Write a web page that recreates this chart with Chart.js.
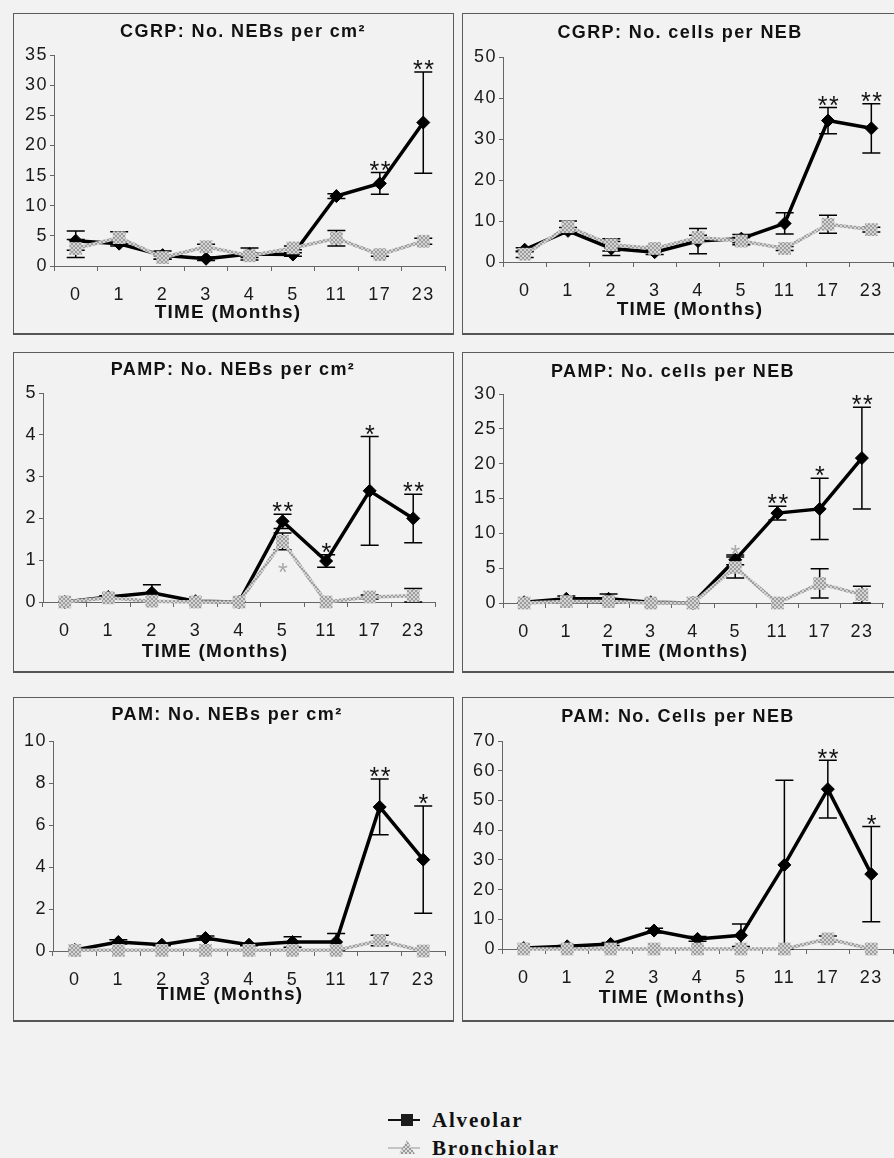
<!DOCTYPE html>
<html>
<head>
<meta charset="utf-8">
<title>NEB counts over time</title>
<script src="https://cdn.jsdelivr.net/npm/chart.js@4.4.1/dist/chart.umd.min.js"></script>
<style>
  body { margin:0; width:894px; height:1158px; overflow:hidden; background:#f2f2f2; position:relative; }
  .marco { position:absolute; border:1px solid #5c5c5c; border-bottom:2px solid #555; box-sizing:border-box; }
  canvas.graf { position:absolute; }
  #leyenda { position:absolute; left:386px; top:1106px; font-family:"Liberation Serif","Times New Roman",serif; font-weight:bold; font-size:21px; letter-spacing:1.8px; color:#111; }
  .item { position:relative; height:28px; line-height:28px; padding-left:46px; }
  .linea { position:absolute; left:2px; top:13px; width:32px; height:2px; }
  .cuadro { position:absolute; left:15px; top:8px; width:12px; height:12px; background:#1c1c1c; }
  .triangulo { position:absolute; left:13px; top:6px; width:16px; height:14px; clip-path:polygon(50% 0,100% 100%,0 100%);
               background:repeating-conic-gradient(#999 0 25%, #dcdcdc 0 50%) 0 0/4px 4px; }
</style>
</head>
<body>

<div class="marco" style="left:13px;top:13px;width:441px;height:322px"></div>
<div class="marco" style="left:462px;top:13px;width:440px;height:322px"></div>
<div class="marco" style="left:13px;top:352px;width:441px;height:321px"></div>
<div class="marco" style="left:462px;top:352px;width:440px;height:321px"></div>
<div class="marco" style="left:13px;top:697px;width:441px;height:325px"></div>
<div class="marco" style="left:462px;top:697px;width:440px;height:325px"></div>

<canvas id="g1" class="graf" width="441" height="322" style="left:13px;top:13px"></canvas>
<canvas id="g2" class="graf" width="440" height="322" style="left:462px;top:13px"></canvas>
<canvas id="g3" class="graf" width="441" height="321" style="left:13px;top:352px"></canvas>
<canvas id="g4" class="graf" width="440" height="321" style="left:462px;top:352px"></canvas>
<canvas id="g5" class="graf" width="441" height="325" style="left:13px;top:697px"></canvas>
<canvas id="g6" class="graf" width="440" height="325" style="left:462px;top:697px"></canvas>

<div id="leyenda">
  <div class="item"><span class="linea" style="background:#111"></span><span class="cuadro"></span>Alveolar</div>
  <div class="item"><span class="linea" style="background:#c4c4c4"></span><span class="triangulo"></span>Bronchiolar</div>
</div>

<script>
// categorias (meses)
var meses = ["0","1","2","3","4","5","11","17","23"];
var titulos = ["CGRP: No. NEBs per cm²","CGRP: No. cells per NEB","PAMP: No. NEBs per cm²",
               "PAMP: No. cells per NEB","PAM: No. NEBs per cm²","PAM: No. Cells per NEB"];
var tituloEjeX = "TIME (Months)";
var yMaximos = [35,50,5,30,10,70];
var yPasos = [5,10,1,5,2,10];

// CGRP: NEBs por cm2
var cgrpNebAlv = [4.2,3.7,1.8,1.2,2.0,1.9,11.6,13.7,23.8];
var cgrpNebAlvErr = [1.6,0.4,0.7,0.3,1.0,0.3,0.4,1.8,8.4];
var cgrpNebBro = [2.9,4.7,1.4,3.2,1.7,3.0,4.6,1.9,4.1];
var cgrpNebBroErr = [1.5,1.0,0.3,0.4,0.3,0.3,1.3,0.3,0.5];
var cgrpNebAlvAst = ["","","","","","","","**","**"];
var cgrpNebBroAst = ["","","","","","","","",""];

// CGRP: celulas por NEB
var cgrpCelAlv = [3.0,7.6,3.3,2.4,5.1,5.7,9.4,34.5,32.6];
var cgrpCelAlvErr = [0.5,0.8,1.7,0.6,3.1,1.0,2.6,3.2,6.0];
var cgrpCelBro = [1.9,8.6,4.2,3.3,6.0,5.1,3.3,9.2,7.9];
var cgrpCelBroErr = [0.8,1.4,1.5,0.5,0.5,0.9,0.5,2.2,0.6];
var cgrpCelAlvAst = ["","","","","","","","**","**"];
var cgrpCelBroAst = ["","","","","","","","",""];

// PAMP: NEBs por cm2
var pampNebAlv = [0,0.12,0.22,0.02,0,1.93,0.98,2.66,2.0];
var pampNebAlvErr = [0,0.03,0.19,0,0,0.17,0.15,1.3,0.58];
var pampNebBro = [0,0.1,0.02,0,0,1.45,0,0.12,0.15];
var pampNebBroErr = [0,0.03,0,0,0,0.2,0,0.05,0.17];
var pampNebAlvAst = ["","","","","","**","*","*","**"];
var pampNebBroAst = ["","","","","","*","","",""];

// PAMP: celulas por NEB
var pampCelAlv = [0.1,0.6,0.6,0.1,0,6.2,12.9,13.5,20.8];
var pampCelAlvErr = [0,0.4,0.7,0,0,0.7,1.0,4.4,7.3];
var pampCelBro = [0,0.2,0.2,0,0,5.1,0,2.8,1.2];
var pampCelBroErr = [0,0,0,0,0,1.5,0,2.1,1.2];
var pampCelAlvAst = ["","","","","","","**","*","**"];
var pampCelBroAst = ["","","","","","*","","",""];

// PAM: NEBs por cm2
var pamNebAlv = [0.05,0.43,0.3,0.62,0.3,0.43,0.43,6.86,4.35];
var pamNebAlvErr = [0,0.1,0.05,0.1,0.05,0.25,0.4,1.33,2.55];
var pamNebBro = [0.03,0.03,0.03,0.03,0.03,0.03,0.03,0.5,0];
var pamNebBroErr = [0,0,0,0,0,0,0,0.25,0];
var pamNebAlvAst = ["","","","","","","","**","*"];
var pamNebBroAst = ["","","","","","","","",""];

// PAM: celulas por NEB
var pamCelAlv = [0.3,0.9,1.7,6.2,3.4,4.6,28.3,53.8,25.2];
var pamCelAlvErr = [0,0.3,0.5,0.8,0.8,3.8,28.5,9.7,16];
var pamCelBro = [0,0,0,0,0,0,0,3.4,0];
var pamCelBroErr = [0,0,0,0,0,0,0,1.0,0];
var pamCelAlvAst = ["","","","","","","","**","*"];
var pamCelBroAst = ["","","","","","","","",""];

// posiciones de cada panel (coordenadas de pagina)
var marcos = [
  {x:13,  y:13,  w:441, h:322, left:54,  top:55,  right:445, bottom:266, tx:243, ty:32,  ex:228, ey:313},
  {x:462, y:13,  w:440, h:322, left:503, top:57,  right:893, bottom:262, tx:680, ty:33,  ex:690, ey:310},
  {x:13,  y:352, w:441, h:321, left:43,  top:393, right:435, bottom:602, tx:233, ty:370, ex:215, ey:652},
  {x:462, y:352, w:440, h:321, left:503, top:394, right:883, bottom:603, tx:673, ty:372, ex:675, ey:652},
  {x:13,  y:697, w:441, h:325, left:53,  top:741, right:445, bottom:951, tx:227, ty:715, ex:230, ey:995},
  {x:462, y:697, w:440, h:325, left:502, top:741, right:893, bottom:949, tx:678, ty:717, ex:672, ey:998}
];

var cuadros = document.createElement("canvas");
cuadros.width = 4; cuadros.height = 4;
var cc = cuadros.getContext("2d");
cc.fillStyle = "#d4d4d4"; cc.fillRect(0,0,4,4);
cc.fillStyle = "#9e9e9e"; cc.fillRect(0,0,2,2); cc.fillRect(2,2,2,2);

var extras = {
  id:"extras",
  beforeUpdate:function(chart){ chart.ctx.letterSpacing = "1.5px"; },
  beforeDraw:function(chart){ chart.ctx.letterSpacing = "1.5px"; },
  beforeDatasetsDraw:function(chart){
    var ctx = chart.ctx, ys = chart.scales.y;
    ctx.save();
    ctx.strokeStyle = "#000";
    ctx.lineWidth = 1.5;
    chart.data.datasets.forEach(function(ds,i){
      var meta = chart.getDatasetMeta(i);
      ds.errores.forEach(function(e,j){
        if(!e) return;
        var x = meta.data[j].x, v = ds.data[j];
        var y1 = ys.getPixelForValue(v+e), y2 = ys.getPixelForValue(Math.max(v-e,0));
        ctx.beginPath();
        ctx.moveTo(x,y1); ctx.lineTo(x,y2);
        ctx.moveTo(x-9,y1); ctx.lineTo(x+9,y1);
        ctx.moveTo(x-9,y2); ctx.lineTo(x+9,y2);
        ctx.stroke();
      });
    });
    ctx.restore();
  },
  afterDraw:function(chart,args,op){
    var ctx = chart.ctx, ys = chart.scales.y;
    ctx.save();
    ctx.font = "25px 'Liberation Sans'";
    ctx.letterSpacing = "1.5px";
    ctx.textAlign = "center";
    ctx.textBaseline = "alphabetic";
    chart.data.datasets.forEach(function(ds,i){
      var meta = chart.getDatasetMeta(i);
      ds.asteriscos.forEach(function(s,j){
        if(!s) return;
        var x = meta.data[j].x, v = ds.data[j], e = ds.errores[j];
        var yc = ds.ladoAst === "abajo" ? ys.getPixelForValue(v-e) + 17 : ys.getPixelForValue(v+e) - 8;
        ctx.fillStyle = ds.colorAst;
        ctx.fillText(s, x + 1, yc + 14.2);
      });
    });
    ctx.fillStyle = "#111";
    ctx.textBaseline = "middle";
    ctx.font = "bold 18px 'Liberation Sans'";
    ctx.letterSpacing = "1.4px";
    ctx.fillText(op.titulo, op.tx, op.ty);
    ctx.font = "bold 19px 'Liberation Sans'";
    ctx.letterSpacing = "1.2px";
    ctx.fillText(tituloEjeX, op.ex, op.ey);
    ctx.restore();
  }
};

function grafica(n, alv, alvErr, alvAst, bro, broErr, broAst, ladoBro){
  var m = marcos[n];
  var ctx = document.getElementById("g" + (n+1)).getContext("2d");
  var patron = ctx.createPattern(cuadros, "repeat");
  new Chart(ctx, {
    type:"line",
    data:{
      labels:meses,
      datasets:[{
        label:"Alveolar", data:alv, errores:alvErr, asteriscos:alvAst, colorAst:"#111", ladoAst:"arriba",
        borderColor:"#000", backgroundColor:"#000", borderWidth:3.5,
        pointStyle:"rectRot", pointRadius:6.5, pointBorderWidth:1, pointBorderColor:"#000",
        order:2, clip:false
      },{
        label:"Bronchiolar", data:bro, errores:broErr, asteriscos:broAst, colorAst:"#a9a9a9", ladoAst:ladoBro,
        borderColor:patron, backgroundColor:patron, borderWidth:3.5,
        pointStyle:"rect", pointRadius:9, pointBorderWidth:0,
        order:1, clip:false
      }]
    },
    options:{
      responsive:false, animation:false, events:[],
      layout:{padding:{left:0, top:m.top-m.y, right:m.x+m.w-m.right, bottom:0}},
      plugins:{
        legend:{display:false}, tooltip:{enabled:false}, title:{display:false},
        extras:{titulo:titulos[n], tx:m.tx-m.x, ty:m.ty-m.y, ex:m.ex-m.x, ey:m.ey-m.y}
      },
      scales:{
        x:{
          offset:true,
          grid:{offset:true, drawOnChartArea:false, tickLength:5, color:"#666"},
          border:{color:"#666", width:1},
          ticks:{color:"#1a1a1a", font:{family:"Liberation Sans", size:18}, padding:13, maxRotation:0, autoSkip:false},
          afterFit:function(s){ s.height = m.y + m.h - m.bottom; }
        },
        y:{
          min:0, max:yMaximos[n],
          grid:{drawOnChartArea:false, tickLength:4, color:"#666"},
          border:{color:"#666", width:1},
          ticks:{stepSize:yPasos[n], color:"#1a1a1a", font:{family:"Liberation Sans", size:18}, padding:2},
          afterFit:function(s){ s.width = m.left - m.x; }
        }
      }
    },
    plugins:[extras]
  });
}

document.addEventListener("DOMContentLoaded",function(){
  grafica(0, cgrpNebAlv, cgrpNebAlvErr, cgrpNebAlvAst, cgrpNebBro, cgrpNebBroErr, cgrpNebBroAst, "arriba");
  grafica(1, cgrpCelAlv, cgrpCelAlvErr, cgrpCelAlvAst, cgrpCelBro, cgrpCelBroErr, cgrpCelBroAst, "arriba");
  grafica(2, pampNebAlv, pampNebAlvErr, pampNebAlvAst, pampNebBro, pampNebBroErr, pampNebBroAst, "abajo");
  grafica(3, pampCelAlv, pampCelAlvErr, pampCelAlvAst, pampCelBro, pampCelBroErr, pampCelBroAst, "arriba");
  grafica(4, pamNebAlv, pamNebAlvErr, pamNebAlvAst, pamNebBro, pamNebBroErr, pamNebBroAst, "arriba");
  grafica(5, pamCelAlv, pamCelAlvErr, pamCelAlvAst, pamCelBro, pamCelBroErr, pamCelBroAst, "arriba");
});
</script>
</body>
</html>
